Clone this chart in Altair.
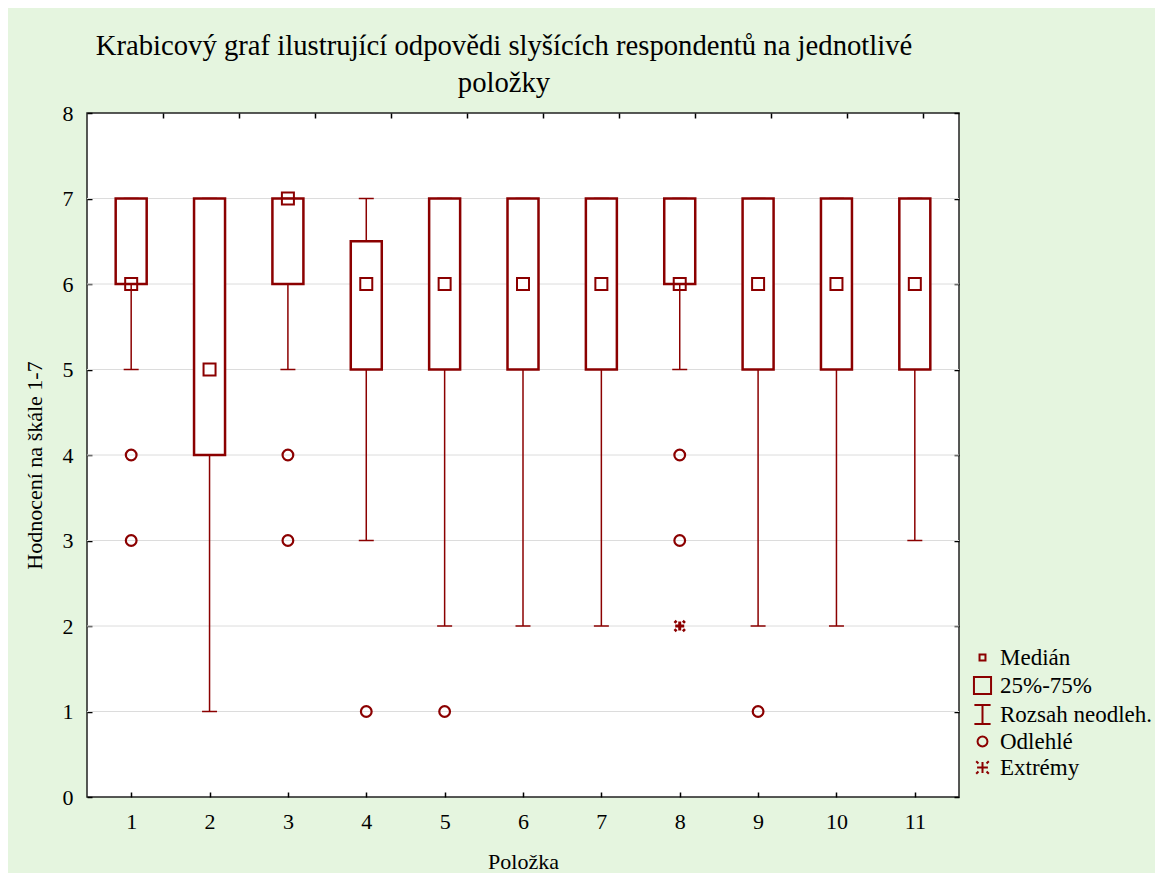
import altair as alt
import pandas as pd

# ---- data ----
items = [1, 2, 3, 4, 5, 6, 7, 8, 9, 10, 11]
q1 = [6, 4, 6, 5, 5, 5, 5, 6, 5, 5, 5]
q3 = [7, 7, 7, 6.5, 7, 7, 7, 7, 7, 7, 7]
median = [6, 5, 7, 6, 6, 6, 6, 6, 6, 6, 6]
whisker_low = [5, 1, 5, 3, 2, 2, 2, 5, 2, 2, 3]
whisker_high = [7, 7, 7, 7, 7, 7, 7, 7, 7, 7, 7]
outlier_item = [1, 1, 3, 3, 4, 5, 8, 8, 9]
outlier_value = [4, 3, 4, 3, 1, 1, 4, 3, 1]
extreme_item = [8]
extreme_value = [2]
grid_values = [1, 2, 3, 4, 5, 6, 7]
y_ticks = [0, 1, 2, 3, 4, 5, 6, 7, 8]
top_ticks = [1, 2, 3, 4, 5, 6, 7, 8, 9, 10, 11]
top_domain = [0, 11.47]
legend_labels = ["Medián", "25%-75%", "Rozsah neodleh.", "Odlehlé", "Extrémy"]

DR = "#8b0000"
FONT = "Liberation Serif"

box_df = pd.DataFrame({"item": items, "q1": q1, "q3": q3, "med": median,
                       "lo": whisker_low, "hi": whisker_high})
cap_df = pd.DataFrame({"item": items + items, "v": whisker_low + whisker_high})
out_df = pd.DataFrame({"item": outlier_item, "v": outlier_value})
ext_df = pd.DataFrame({"item": extreme_item, "v": extreme_value})
grid_df = pd.DataFrame({"v": grid_values})
leg_df = pd.DataFrame({"label": legend_labels})
ytick_df = pd.DataFrame({"v": y_ticks})
ttick_df = pd.DataFrame({"v": top_ticks})

xscale = alt.Scale(domain=[0.5, 11.5], nice=False, zero=False)
yscale = alt.Scale(domain=[0, 8], nice=False, zero=False)
xaxis = alt.Axis(values=items, title="Položka", orient="bottom", grid=False,
                 domain=False, tickSize=5, offset=-5, tickColor="black",
                 tickWidth=1.5, labelPadding=14, titlePadding=19, labelAngle=0)
yaxis = alt.Axis(values=y_ticks, title="Hodnocení na škále 1-7", orient="left",
                 grid=False, domain=False, tickSize=5, offset=-5,
                 tickColor="black", tickWidth=1.5, labelPadding=14,
                 titlePadding=16, titleY=352)


def X(field):
    return alt.X(field, type="quantitative", scale=xscale, axis=xaxis)


def Y(field):
    return alt.Y(field, type="quantitative", scale=yscale, axis=yaxis)


grid = alt.Chart(grid_df).mark_rule(color="#dcdcdc", strokeWidth=1).encode(y=Y("v"))

whisk = alt.Chart(box_df).mark_rule(color=DR, strokeWidth=1.5).encode(
    x=X("item"), y=Y("lo"), y2="hi")

caps = alt.Chart(cap_df).mark_tick(orient="horizontal", size=15, thickness=1.5,
                                   color=DR, opacity=1).encode(x=X("item"), y=Y("v"))

boxes = alt.Chart(box_df).mark_bar(size=31, fill="white", stroke=DR,
                                   strokeWidth=2.5).encode(x=X("item"), y=Y("q1"), y2="q3")

meds = alt.Chart(box_df).mark_point(shape="square", size=144, filled=False,
                                    color=DR, strokeWidth=2, opacity=1).encode(
    x=X("item"), y=Y("med"))

outs = alt.Chart(out_df).mark_point(shape="circle", size=115, filled=False,
                                    color=DR, strokeWidth=2.2, opacity=1).encode(
    x=X("item"), y=Y("v"))

ASTER = ("M-0.75,0H0.75M0,-0.75V0.75M-0.85,-0.85L-0.55,-0.55M0.55,0.55L0.85,0.85"
         "M-0.85,0.85L-0.55,0.55M0.55,-0.55L0.85,-0.85")
exts = alt.Chart(ext_df).mark_point(shape=ASTER, size=144, filled=False,
                                    color=DR, strokeWidth=3, opacity=1).encode(
    x=X("item"), y=Y("v"))

leg_shapes = [
    "M-0.33,-0.33H0.33V0.33H-0.33Z",
    "M-0.95,-0.95H0.95V0.95H-0.95Z",
    "M-0.9,-1.05H0.9M0,-1.05V1.05M-0.9,1.05H0.9",
    "M0.55,0A0.55,0.55 0 1,1 -0.55,0A0.55,0.55 0 1,1 0.55,0Z",
    "M-0.6,0H0.6M0,-0.6V0.6M-0.7,-0.7L-0.45,-0.45M0.45,0.45L0.7,0.7"
    "M-0.7,0.7L-0.45,0.45M0.45,-0.45L0.7,-0.7",
]
legend_layer = alt.Chart(leg_df).transform_filter("false").mark_point(
    filled=False, color=DR, strokeWidth=2, opacity=1).encode(
    shape=alt.Shape("label:N", scale=alt.Scale(domain=legend_labels, range=leg_shapes),
                    legend=alt.Legend(orient="none", legendX=884, legendY=533,
                                      title=None, symbolSize=324,
                                      symbolStrokeColor=DR, symbolStrokeWidth=2,
                                      symbolFillColor="transparent",
                                      labelFont=FONT, labelFontSize=23,
                                      labelColor="black", labelOffset=6,
                                      rowPadding=2, padding=0)))

main = alt.layer(grid, whisk, caps, boxes, meds, outs, exts, legend_layer)

right_axis = alt.Chart(ytick_df).transform_filter("false").mark_point().encode(
    y=alt.Y("v:Q", scale=alt.Scale(domain=[0, 8], nice=False, zero=False),
            axis=alt.Axis(orient="right", values=y_ticks, labels=False, title=None,
                          domain=False, grid=False, tickSize=5, offset=-5,
                          tickColor="black", tickWidth=1.5)))

top_axis = alt.Chart(ttick_df).transform_filter("false").mark_point().encode(
    x=alt.X("v:Q", scale=alt.Scale(domain=top_domain, nice=False, zero=False),
            axis=alt.Axis(orient="top", values=top_ticks, labels=False, title=None,
                          domain=False, grid=False, tickSize=5, offset=-5,
                          tickColor="black", tickWidth=1.5)))

chart = alt.layer(main, right_axis, top_axis).resolve_scale(
    x="independent", y="independent"
).properties(
    width=872, height=684,
    title=alt.TitleParams(
        text=["Krabicový graf ilustrující odpovědi slyšících respondentů na jednotlivé",
              "položky"],
        font=FONT, fontSize=28.7, fontWeight="normal", color="black",
        anchor="middle", dx=-19, offset=4, lineHeight=37),
    padding={"left": 79, "top": 105, "right": 196, "bottom": 76},
    autosize="none",
    background="#e5f5df",
    view=alt.ViewBackground(fill="white", stroke="#222222", strokeWidth=1.5),
).configure_view(fill="white", stroke="#222222", strokeWidth=1.5
).configure_axis(labelFont=FONT, labelFontSize=22, labelColor="black",
                 titleFont=FONT, titleFontSize=22, titleFontWeight="normal",
                 titleColor="black"
).configure_legend(labelFont=FONT, labelFontSize=23, labelColor="black")

chart.save("out.html", embed_options={"renderer": "svg", "actions": False})
